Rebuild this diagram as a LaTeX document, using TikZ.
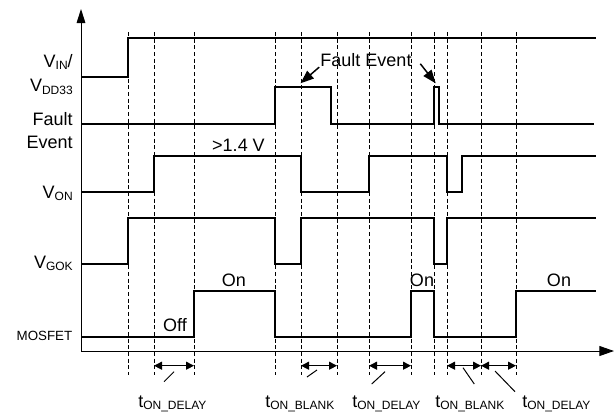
\documentclass[tikz,border=0pt]{standalone}
\usepackage{fontspec}
\setmainfont{Liberation Sans}
\usetikzlibrary{arrows.meta}
\newcommand{\lsub}[1]{\raisebox{-2.2pt}{\fontsize{9}{9}\selectfont #1}}
\newcommand{\tsub}[1]{\raisebox{-1.2pt}{\fontsize{9}{9}\selectfont #1}}
\begin{document}
\begin{tikzpicture}[x=0.75pt,y=-0.75pt,
  sig/.style={line width=1.25pt, line join=miter},
  gridline/.style={line width=0.5pt, dash pattern=on 3pt off 2pt},
  axis/.style={line width=0.7pt},
  lab/.style={font=\fontsize{13.5}{15}\selectfont, inner sep=0pt},
  sublab/.style={font=\fontsize{13.5}{15}\selectfont, inner sep=0pt, anchor=base west},
  dim/.style={line width=0.75pt, {Triangle[length=6pt,width=6pt]}-{Triangle[length=6pt,width=6pt]}},
  leader/.style={line width=0.75pt},
  fearrow/.style={line width=1.1pt, -{Triangle[length=10pt,width=7.5pt]}}]
\useasboundingbox (0,0) rectangle (615,412);

% dashed time markers
\foreach \x in {128,154,194,275,301,337,369,411,434,447,481,516}
  \draw[gridline] (\x,32) -- (\x,375);

% axes
\coordinate (O) at (81,351);
\coordinate (ytop) at (81,9);
\coordinate (xend) at (614,351);
\draw[axis,-{Triangle[length=10.5pt,width=6.5pt]}] (O) -- (ytop);
\draw[axis,-{Triangle[length=11pt,width=7.5pt]}] (O) -- (xend);

% signals
\draw[sig] (81,77) -- (128,77) -- (128,37.7) -- (596,37.7);
\draw[sig] (81,123.7) -- (275,123.7) -- (275,86.7) -- (331,86.7) -- (331,123.7)
  -- (434,123.7) -- (434,86.7) -- (439.3,86.7) -- (439.3,123.7) -- (594,123.7);
\draw[sig] (81,192.3) -- (154,192.3) -- (154,155.7) -- (301,155.7) -- (301,192.3)
  -- (369,192.3) -- (369,155.7) -- (447,155.7) -- (447,192.3) -- (462,192.3)
  -- (462,155.7) -- (596,155.7);
\draw[sig] (81,264) -- (128,264) -- (128,217.7) -- (275,217.7) -- (275,264)
  -- (301,264) -- (301,217.7) -- (434,217.7) -- (434,264) -- (447,264)
  -- (447,217.7) -- (596,217.7);
\draw[sig] (81,337.3) -- (194,337.3) -- (194,291) -- (275,291) -- (275,337.3)
  -- (411,337.3) -- (411,291) -- (434,291) -- (434,337.3) -- (516,337.3)
  -- (516,291) -- (596,291);

% left labels
\node[lab,anchor=base east] (vin) at (73,67) {V\lsub{IN}/};
\node[lab,anchor=base east] (vdd) at (73,91.5) {V\lsub{DD33}};
\node[lab,anchor=base east] (fault) at (73,125) {Fault};
\node[lab,anchor=base east] (event) at (73,148) {Event};
\node[lab,anchor=base east] (von) at (73,198) {V\lsub{ON}};
\node[lab,anchor=base east] (vgok) at (73,268) {V\lsub{GOK}};
\node[inner sep=0pt,font=\fontsize{10}{12}\selectfont,anchor=base east] (mos) at (72.5,340) {MOSFET};

% in-plot labels
\node[lab,anchor=base] (thr) at (238.5,151.5) {>1.4 V};
\node[lab,anchor=base] (fe) at (366,66.5) {Fault Event};
\node[lab,anchor=base] (on1) at (234,286) {On};
\node[lab,anchor=base] (off) at (175,331) {Off};
\node[lab,anchor=base] (on2) at (422,286) {On};
\node[lab,anchor=base] (on3) at (559,286) {On};

% fault event arrows
\coordinate (fe1) at (300.5,83.3);
\coordinate (fe2) at (435.7,83.3);
\draw[fearrow] ([shift={(-1,0.2)}]fe.south west) -- (fe1);
\draw[fearrow] ([shift={(8.5,-3.2)}]fe.south east) -- (fe2);

% timing dimension arrows
\draw[dim] (154,365.7) -- (194,365.7);
\draw[dim] (301,365.7) -- (337,365.7);
\draw[dim] (369,365.7) -- (411,365.7);
\draw[dim] (447,365.7) -- (481,365.7);
\draw[dim] (481,365.7) -- (516,365.7);

% timing labels
\node[sublab] (t1) at (138,407.5) {t\tsub{ON\_DELAY}};
\node[sublab] (t2) at (265,407.5) {t\tsub{ON\_BLANK}};
\node[sublab] (t3) at (352,407.5) {t\tsub{ON\_DELAY}};
\node[sublab] (t4) at (435,407.5) {t\tsub{ON\_BLANK}};
\node[sublab] (t5) at (522,407.5) {t\tsub{ON\_DELAY}};

% leader lines
\draw[leader] (164,381.7) -- (174,371.7);
\draw[leader] (307,377) -- (317,370);
\draw[leader] (371.7,384) -- (385,371.7);
\draw[leader] (463,367.7) -- (474.3,384);
\draw[leader] (495,371) -- (515,391.7);
\end{tikzpicture}
\end{document}
